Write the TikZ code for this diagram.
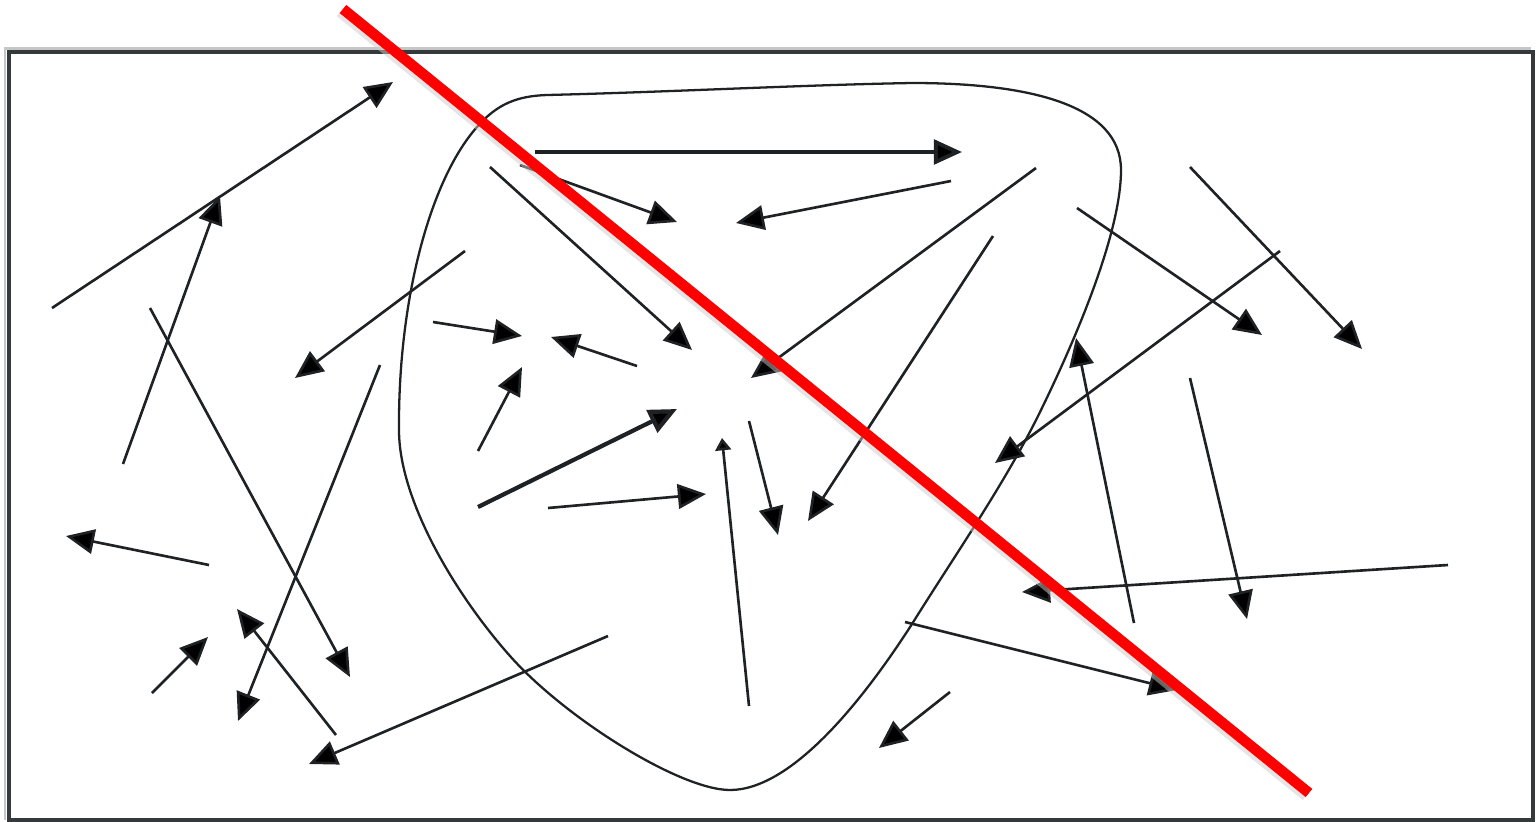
\documentclass[tikz,border=0pt]{standalone}
\usepackage{tikz}
\usetikzlibrary{arrows.meta}
\definecolor{inkDark}{RGB}{30,34,36}
\definecolor{frameDark}{RGB}{52,58,60}
\definecolor{crossRed}{RGB}{255,0,0}

\begin{document}
\begin{tikzpicture}[
    x=0.02cm, y=-0.02cm,
    arr/.style={-{Triangle[length=16pt,width=14pt,fill=black]}, line width=1.5pt, draw=inkDark},
    smallarr/.style={-{Triangle[length=7pt,width=9pt,fill=black]}, line width=1.5pt, draw=inkDark},
    thickarr/.style={arr, line width=2.4pt},
    blob/.style={draw=inkDark, line width=1.3pt}
  ]
  \useasboundingbox (0,0) rectangle (1536,822);
  % Frame with light shadow line
  \draw[gray!45, line width=1.4pt] (5,820) -- (5,48.5) -- (1531,48.5);
  \draw[frameDark, line width=2pt] (9,52) rectangle (1533,820);
  % Closed region
  \draw[blob] (547,95) .. controls (670,92) and (800,85) .. (912,83)
    .. controls (1030,83) and (1121,105) .. (1121,170)
    .. controls (1121,230) and (1080,330) .. (1041,410)
    .. controls (1006,482) and (955,555) .. (912,624)
    .. controls (860,705) and (790,790) .. (730,790)
    .. controls (680,790) and (565,718) .. (510,656)
    .. controls (455,594) and (399,500) .. (399,430)
    .. controls (398,300) and (430,180) .. (477,127)
    .. controls (497,104) and (517,96) .. cycle;
  % Arrows: left side
  \draw[arr] (52,308) -- (393,82);
  \draw[arr] (123,464) -- (220,196);
  \draw[arr] (150,308) -- (350,677);
  \draw[arr] (465,251) -- (295,378);
  \draw[arr] (380,365) -- (238,721);
  \draw[arr] (209,565) -- (66,536);
  \draw[arr] (152,693) -- (208,637);
  \draw[arr] (336,735) -- (237,609);
  \draw[arr] (608,636) -- (309,764);
  % Arrows: inside the region
  \draw[arr, line width=2.2pt] (535,152) -- (962,152);
  \draw[arr] (520,165) -- (677,222);
  \draw[arr] (490,167) -- (692,350);
  \draw[arr] (951,181) -- (736,223);
  \draw[arr] (1036,168) -- (751,378);
  \draw[arr] (993,236) -- (808,521);
  \draw[arr] (433,322) -- (522,336);
  \draw[arr] (637,366) -- (551,337);
  \draw[arr] (478,451) -- (522,367);
  \draw[thickarr] (478,507) -- (677,409);
  \draw[arr] (548,508) -- (706,494);
  \draw[smallarr] (749,706) -- (722,438);
  \draw[arr] (749,421) -- (778,535);
  % Arrows: right side
  \draw[arr] (1077,208) -- (1262,335);
  \draw[arr] (1190,167) -- (1362,349);
  \draw[arr] (1280,251) -- (995,463);
  \draw[arr] (1134,623) -- (1076,338);
  \draw[arr] (1190,378) -- (1247,619);
  \draw[arr] (1448,565) -- (1022,592);
  \draw[arr] (905,622) -- (1177,690);
  \draw[arr] (950,692) -- (879,748);
  % Red strike line
  \draw[black!20, opacity=0.5, line width=6pt] (340,12) -- (1306,796);
  \draw[crossRed, line width=6pt] (343,9) -- (1309,793);
\end{tikzpicture}
\end{document}
